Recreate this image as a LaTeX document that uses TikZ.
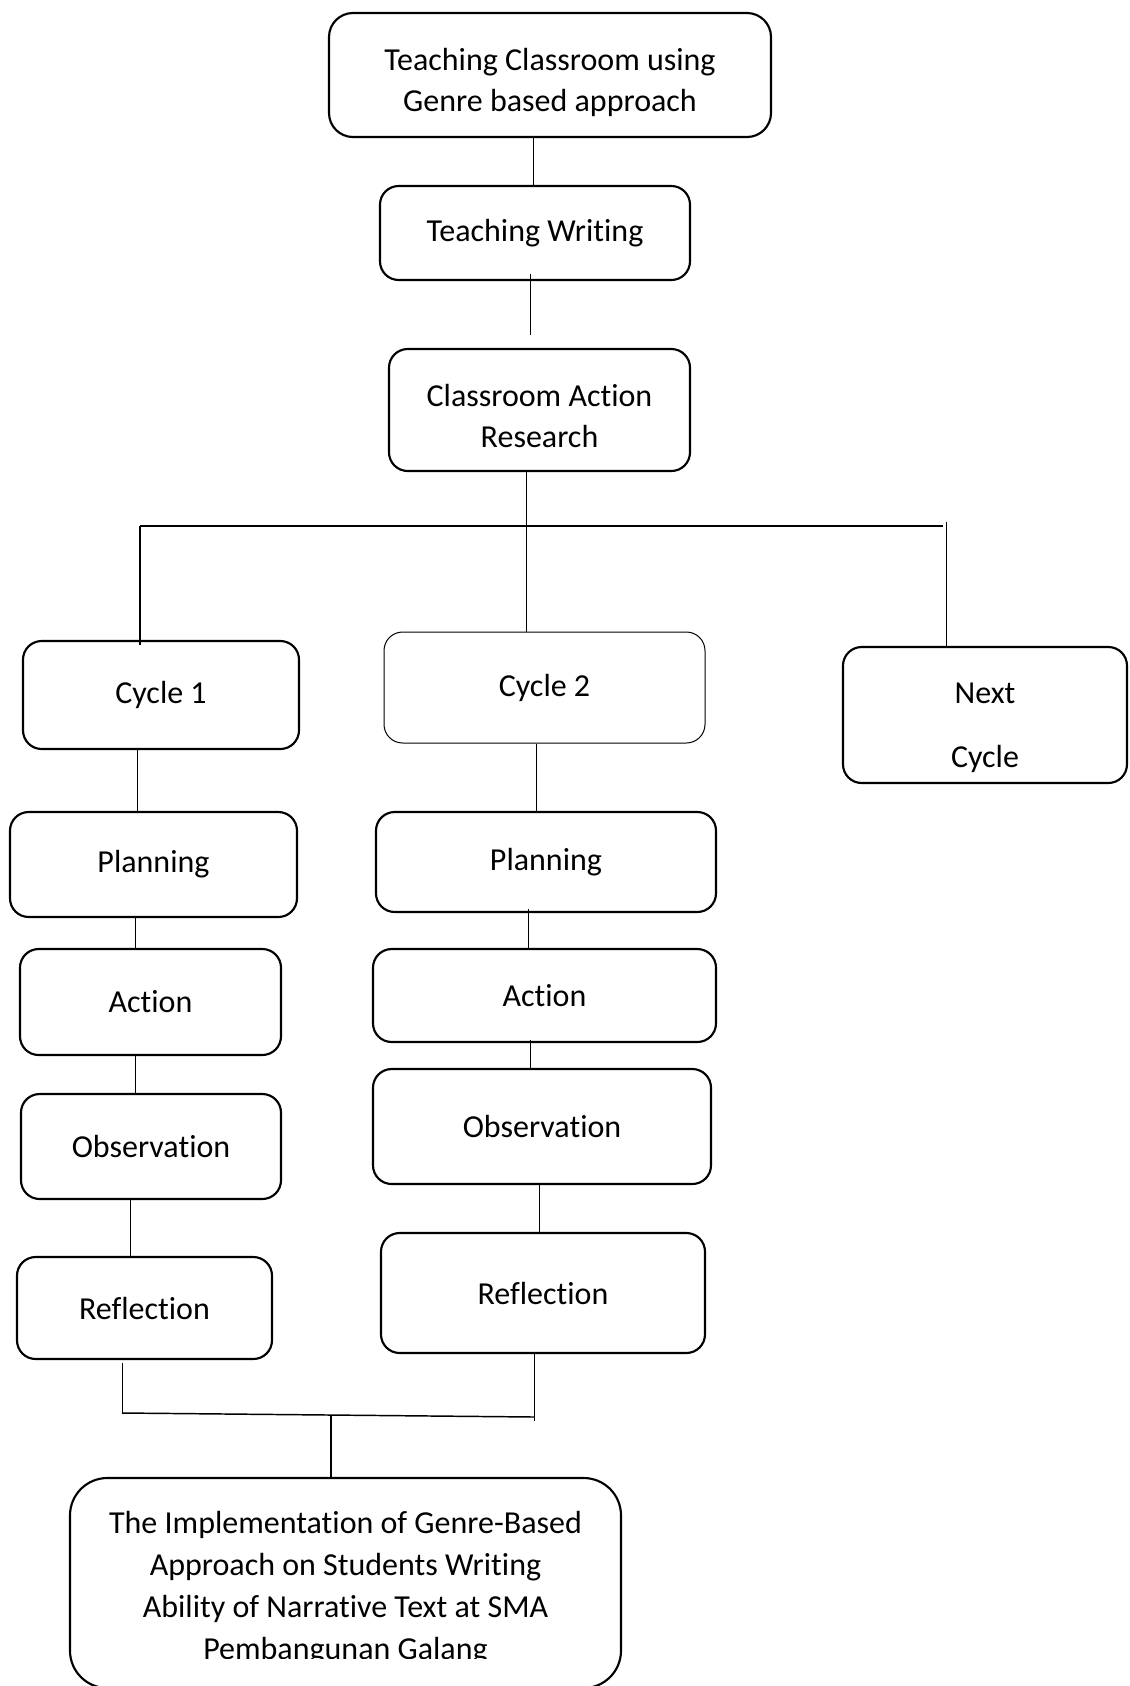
\documentclass[tikz,border=0pt]{standalone}
\usepackage{fontspec}
\setmainfont{Carlito}[Ligatures=NoCommon]
\usepackage{tikz}

\tikzset{
  stage/.style={draw, rounded corners=14pt, line width=1.6pt, align=center, inner sep=0pt,
    font=\fontsize{24}{30.75}\selectfont},
  link/.style={line width=0.75pt},
  buslink/.style={line width=1.5pt},
}

\begin{document}
\begin{tikzpicture}[x=0.75pt,y=0.75pt,yscale=-1,xscale=1]
\useasboundingbox (0,0) rectangle (1129,1686);

%Top of the framework
\node (top) [stage, rounded corners=18pt, minimum width=331.5pt, minimum height=93pt] at (550,75) {\rule{0pt}{28pt}Teaching Classroom using\\ Genre based approach};
\node (writing) [stage, minimum width=232.5pt, minimum height=70.5pt] at (535,233) {Teaching Writing};
\node (car) [stage, minimum width=225.75pt, minimum height=91.5pt] at (539.5,410) {\rule{0pt}{26pt}Classroom Action\\ Research};

%Cycles
\node (cyc1) [stage, minimum width=207pt, minimum height=81pt] at (161,695) {Cycle 1};
\node (cyc2) [stage, line width=0.75pt, minimum width=240.75pt, minimum height=83.25pt] at (544.5,687.5) {Cycle 2};
\node (next) [stage, font=\fontsize{24}{48}\selectfont, minimum width=213pt, minimum height=102pt] at (985,715) {\rule{0pt}{35pt}Next\\ Cycle};

%Cycle 1 steps
\node (plan1) [stage, minimum width=215.25pt, minimum height=78.75pt] at (153.5,864.5) {Planning};
\node (act1) [stage, minimum width=195.75pt, minimum height=79.5pt] at (150.5,1002) {Action};
\node (obs1) [stage, minimum width=195pt, minimum height=78.75pt] at (151,1146.5) {Observation};
\node (ref1) [stage, minimum width=191.25pt, minimum height=76.5pt] at (144.5,1308) {Reflection};

%Cycle 2 steps
\node (plan2) [stage, minimum width=255pt, minimum height=75pt] at (546,862) {Planning};
\node (act2) [stage, minimum width=257.25pt, minimum height=69.75pt] at (544.5,995.5) {Action};
\node (obs2) [stage, minimum width=253.5pt, minimum height=86.25pt] at (542,1126.5) {Observation};
\node (ref2) [stage, minimum width=243pt, minimum height=90pt] at (543,1293) {Reflection};

%Result
\node (result) [stage, rounded corners=28pt, minimum width=413.25pt, minimum height=157.5pt] at (345.5,1583) {};
\begin{scope}
\clip (0,1470) rectangle (1129,1658);
\node (resulttext) [align=center, inner sep=0pt, font=\fontsize{24}{31.5}\selectfont] at (345.5,1588) {The Implementation of Genre-Based\\ Approach on Students Writing\\ Ability of Narrative Text at SMA\\ Pembangunan Galang};
\end{scope}

%Connectors
\coordinate (busL) at (140,526);
\coordinate (busR) at (943,526);
\coordinate (joinL) at (122,1413);
\coordinate (joinR) at (534,1417);
\coordinate (joinM) at (331,1415);

\draw [link] (533,0 |- top.south) -- (533,0 |- writing.north);
\draw [link, shorten <=-5pt, shorten >=9.75pt] (530,0 |- writing.south) -- (530,0 |- car.north);
\draw [link] (526,0 |- car.south) -- (526,0 |- cyc2.north);
\draw [buslink] (busL) -- (busR);
\draw [buslink, shorten >=-3.5pt] (busL) -- (busL |- cyc1.north);
\draw [link, shorten <=-3pt] (946,526) -- (946,0 |- next.north);

\draw [link] (137,0 |- cyc1.south) -- (137,0 |- plan1.north);
\draw [link] (135,0 |- plan1.south) -- (135,0 |- act1.north);
\draw [link] (135,0 |- act1.south) -- (135,0 |- obs1.north);
\draw [link] (130,0 |- obs1.south) -- (130,0 |- ref1.north);

\draw [link] (536,0 |- cyc2.south) -- (536,0 |- plan2.north);
\draw [link, shorten <=-3pt] (528,0 |- plan2.south) -- (528,0 |- act2.north);
\draw [link, shorten <=-2pt] (530,0 |- act2.south) -- (530,0 |- obs2.north);
\draw [link] (539,0 |- obs2.south) -- (539,0 |- ref2.north);

\draw [link, shorten <=2pt] (joinL |- ref1.south) -- (joinL);
\draw [link, shorten >=-3pt] (joinR |- ref2.south) -- (joinR);
\draw [line width=1.1pt] (joinL) -- (joinR);
\draw [line width=1.5pt] (joinM) -- (joinM |- result.north);

\end{tikzpicture}
\end{document}
